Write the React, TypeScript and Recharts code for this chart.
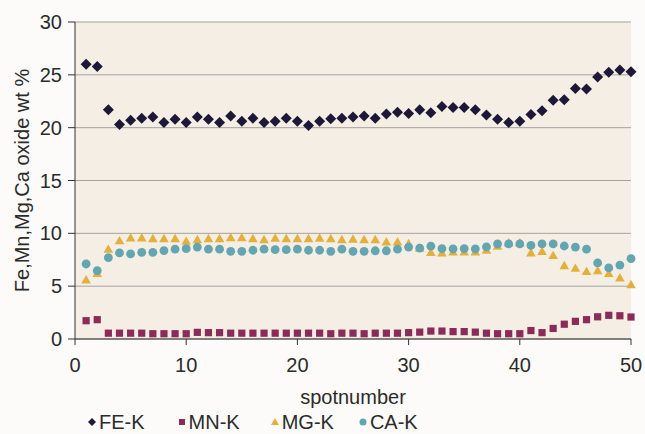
import React from "react";
import {
  ScatterChart,
  Scatter,
  XAxis,
  YAxis,
  CartesianGrid,
  Legend,
  Label,
} from "recharts";

document.body.style.margin = "0";

const spots = [
  1, 2, 3, 4, 5, 6, 7, 8, 9, 10, 11, 12, 13, 14, 15, 16, 17, 18, 19, 20, 21,
  22, 23, 24, 25, 26, 27, 28, 29, 30, 31, 32, 33, 34, 35, 36, 37, 38, 39, 40,
  41, 42, 43, 44, 45, 46, 47, 48, 49, 50,
];

const feK = [
  26.0, 25.8, 21.7, 20.3, 20.7, 20.9, 21.0, 20.5, 20.8, 20.5, 21.0, 20.8, 20.5,
  21.1, 20.6, 20.9, 20.5, 20.6, 20.9, 20.6, 20.2, 20.6, 20.85, 20.9, 21.0, 21.1,
  20.9, 21.3, 21.45, 21.35, 21.7, 21.4, 22.0, 21.9, 21.9, 21.7, 21.2, 20.8,
  20.5, 20.6, 21.25, 21.6, 22.6, 22.65, 23.7, 23.65, 24.8, 25.25, 25.45, 25.3,
];

const mnK = [
  1.73, 1.83, 0.55, 0.55, 0.55, 0.55, 0.5, 0.5, 0.5, 0.5, 0.63, 0.6, 0.6, 0.55,
  0.55, 0.55, 0.55, 0.55, 0.55, 0.55, 0.55, 0.55, 0.5, 0.55, 0.55, 0.5, 0.55,
  0.55, 0.55, 0.6, 0.65, 0.75, 0.75, 0.7, 0.7, 0.65, 0.55, 0.5, 0.5, 0.5, 0.8,
  0.6, 1.0, 1.4, 1.67, 1.83, 2.1, 2.24, 2.2, 2.08,
];

const mgK = [
  5.6, 6.2, 8.5, 9.3, 9.57, 9.57, 9.5, 9.5, 9.5, 9.25, 9.4, 9.5, 9.5, 9.6, 9.6,
  9.5, 9.4, 9.55, 9.5, 9.5, 9.5, 9.55, 9.5, 9.4, 9.45, 9.4, 9.4, 9.2, 9.2, 9.03,
  8.6, 8.2, 8.15, 8.25, 8.25, 8.25, 8.4, 8.78, 9.1, 9.1, 8.15, 8.3, 7.9, 6.95,
  6.7, 6.4, 6.47, 6.2, 5.78, 5.15,
];

const caK = [
  7.1, 6.47, 7.7, 8.15, 8.05, 8.2, 8.2, 8.37, 8.5, 8.55, 8.7, 8.5, 8.5, 8.3,
  8.3, 8.4, 8.5, 8.45, 8.45, 8.5, 8.4, 8.4, 8.3, 8.5, 8.3, 8.3, 8.35, 8.35, 8.5,
  8.7, 8.6, 8.78, 8.56, 8.53, 8.56, 8.53, 8.72, 9.0, 9.0, 9.0, 8.85, 9.0, 9.0,
  8.8, 8.7, 8.5, 7.2, 6.73, 7.0, 7.6,
];

const xTicks = [0, 10, 20, 30, 40, 50];
const yTicks = [0, 5, 10, 15, 20, 25, 30];

const toPoints = (values: number[]) =>
  spots.map((s, i) => ({ x: s, y: values[i] }));

const FONT = "'Liberation Sans', Arial, sans-serif";
const TEXT = "#2b2b2b";

const colors = {
  fe: "#1d1838",
  mn: "#8c2a58",
  mg: "#e4b03c",
  ca: "#63a6b2",
};

const Diamond = ({ cx, cy, fill, r = 5.5 }: any) => (
  <path
    d={`M${cx},${cy - r}L${cx + r},${cy}L${cx},${cy + r}L${cx - r},${cy}Z`}
    fill={fill}
  />
);
const Square = ({ cx, cy, fill, r = 3.6 }: any) => (
  <rect x={cx - r} y={cy - r} width={r * 2} height={r * 2} fill={fill} />
);
const Triangle = ({ cx, cy, fill, r = 4.8 }: any) => (
  <path
    d={`M${cx},${cy - r}L${cx + r},${cy + r * 0.75}L${cx - r},${cy + r * 0.75}Z`}
    fill={fill}
  />
);
const Dot = ({ cx, cy, fill, r = 4.4 }: any) => (
  <circle cx={cx} cy={cy} r={r} fill={fill} />
);

const legendItems = [
  { name: "FE-K", color: colors.fe, Shape: Diamond, r: 4, gap: 32 },
  { name: "MN-K", color: colors.mn, Shape: Square, r: 3, gap: 30 },
  { name: "MG-K", color: colors.mg, Shape: Triangle, r: 4, gap: 24 },
  { name: "CA-K", color: colors.ca, Shape: Dot, r: 3.5, gap: 0 },
];

const renderLegend = () => (
  <div
    style={{
      display: "flex",
      alignItems: "center",
      height: 24,
      fontFamily: FONT,
      fontSize: 20,
      color: TEXT,
    }}
  >
    {legendItems.map(({ name, color, Shape, r, gap }) => (
      <div
        key={name}
        style={{ display: "flex", alignItems: "center", marginRight: gap }}
      >
        <svg width={10} height={12} style={{ marginRight: 2 }}>
          <Shape cx={5} cy={6} r={r} fill={color} />
        </svg>
        <span>{name}</span>
      </div>
    ))}
  </div>
);

const YTitle = ({ viewBox }: any) => {
  const x = viewBox.x + 22;
  const y = viewBox.y + viewBox.height / 2;
  return (
    <text
      x={x}
      y={y}
      transform={`rotate(-90 ${x} ${y})`}
      textAnchor="middle"
      dominantBaseline="central"
      fontFamily={FONT}
      fontSize={20}
      fill={TEXT}
    >
      Fe,Mn,Mg,Ca oxide wt %
    </text>
  );
};

const App = () => {
  return (
    <div style={{ width: 645, height: 434, background: "#fcfbf9" }}>
      <ScatterChart
        width={645}
        height={434}
        margin={{ top: 22, right: 14, left: 0, bottom: 0 }}
      >
        <CartesianGrid
          vertical={false}
          stroke="#a5a29e"
          fill="#f4eee5"
          fillOpacity={1}
        />
        <XAxis
          type="number"
          dataKey="x"
          domain={[0, 50]}
          ticks={xTicks}
          height={71}
          tickMargin={13}
          stroke="#333"
          tick={{ fontFamily: FONT, fontSize: 20, fill: TEXT }}
        >
          <Label
            value="spotnumber"
            position="insideBottom"
            offset={6}
            style={{ fontFamily: FONT, fontSize: 20, fill: TEXT }}
          />
        </XAxis>
        <YAxis
          type="number"
          dataKey="y"
          domain={[0, 30]}
          ticks={yTicks}
          width={75}
          tickSize={7}
          tickMargin={6}
          stroke="#333"
          tick={{ fontFamily: FONT, fontSize: 20, fill: TEXT }}
          label={<YTitle />}
        />
        <Legend
          verticalAlign="bottom"
          align="left"
          content={renderLegend}
          wrapperStyle={{ left: 87 }}
        />
        <Scatter
          name="FE-K"
          data={toPoints(feK)}
          fill={colors.fe}
          shape={<Diamond />}
          isAnimationActive={false}
        />
        <Scatter
          name="MN-K"
          data={toPoints(mnK)}
          fill={colors.mn}
          shape={<Square />}
          isAnimationActive={false}
        />
        <Scatter
          name="MG-K"
          data={toPoints(mgK)}
          fill={colors.mg}
          shape={<Triangle />}
          isAnimationActive={false}
        />
        <Scatter
          name="CA-K"
          data={toPoints(caK)}
          fill={colors.ca}
          shape={<Dot />}
          isAnimationActive={false}
        />
      </ScatterChart>
    </div>
  );
};

export default App;
